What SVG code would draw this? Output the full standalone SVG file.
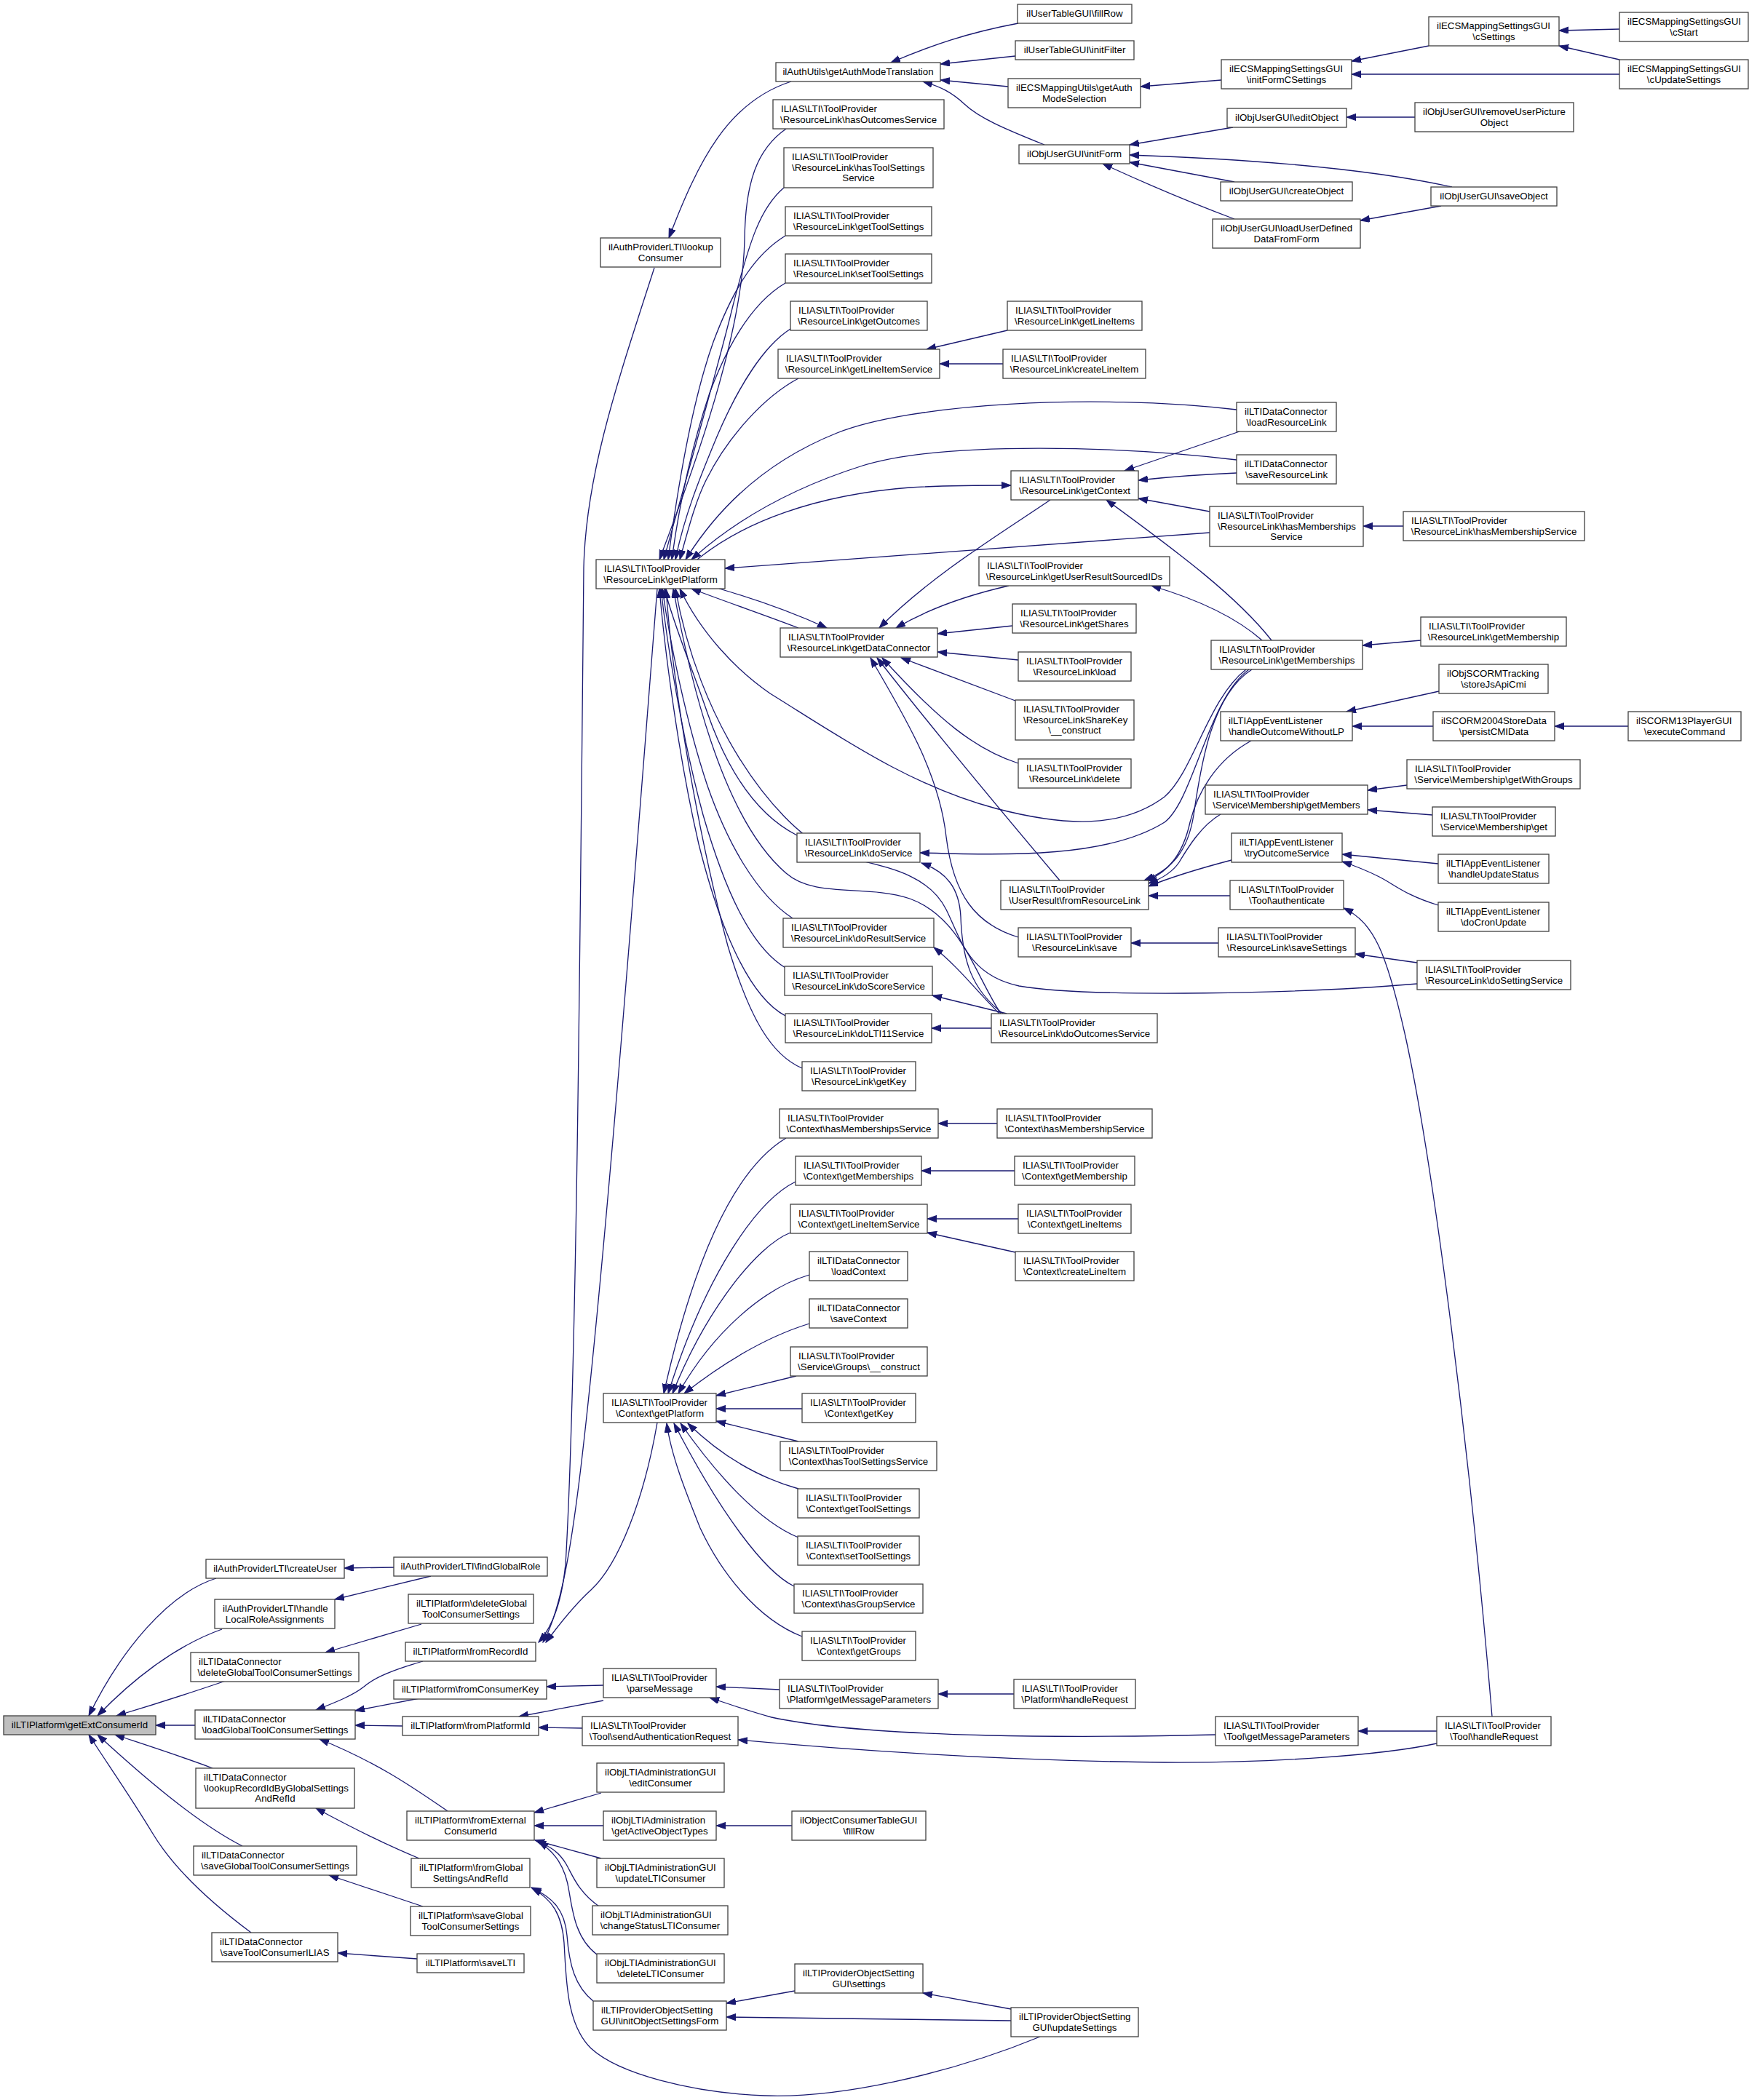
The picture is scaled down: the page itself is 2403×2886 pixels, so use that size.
<svg xmlns="http://www.w3.org/2000/svg" width="2403" height="2886" viewBox="0 0 2403 2886">
<defs>
<marker id="ah" markerUnits="userSpaceOnUse" markerWidth="14" markerHeight="10" refX="13" refY="4.6" orient="auto">
<path d="M0,0 L13,4.6 L0,9.2 z" fill="#191970" stroke="#191970" stroke-width="1"/>
</marker>
</defs>
<style>
.n rect{fill:#fff;stroke:#404040;stroke-width:1.3}
.n text{font-family:"Liberation Sans",Arial,Helvetica,sans-serif;font-size:13.3px;fill:#000}
.n text.m{text-anchor:middle}
.c path{fill:none;stroke:#191970;stroke-width:1.3;marker-end:url(#ah)}
</style>
<rect width="2403" height="2886" fill="#fff"/>
<g id="edges" class="c">
<path d="M297,2169 C230,2190 165,2270 122,2358"/>
<path d="M305,2239 C240,2262 180,2310 134,2358"/>
<path d="M310,2310 C260,2327 210,2343 160,2358"/>
<path d="M268,2371 L214,2371"/>
<path d="M292,2430 C250,2414 200,2398 158,2384"/>
<path d="M333,2537 C270,2505 195,2440 134,2384"/>
<path d="M345,2656 C290,2615 240,2570 210,2520 C180,2470 145,2420 122,2384"/>
<path d="M541,2154 L473,2155"/>
<path d="M592,2166 L460,2198"/>
<path d="M579,2232 L447,2271"/>
<path d="M581,2283 C540,2295 515,2305 500,2318 C485,2330 460,2340 434,2350"/>
<path d="M576,2334 L488,2351"/>
<path d="M553,2372 L488,2371"/>
<path d="M615,2489 C575,2462 525,2425 439,2390"/>
<path d="M576,2554 C530,2535 480,2510 434,2485"/>
<path d="M581,2620 L452,2577"/>
<path d="M573,2692 L464,2684"/>
<path d="M899,368 C850,520 805,650 802,780 C797,1300 792,1900 777,2150 C772,2200 760,2235 740,2257"/>
<path d="M903,809 C880,1100 835,1700 800,2000 C785,2130 770,2215 746,2257"/>
<path d="M903,1955 C885,2060 850,2150 812,2185 C790,2205 770,2230 750,2257"/>
<path d="M829,2316 L751,2318"/>
<path d="M829,2337 L713,2359"/>
<path d="M800,2375 L740,2374"/>
<path d="M826,2464 L734,2491"/>
<path d="M829,2509 L734,2509"/>
<path d="M826,2554 L735,2529"/>
<path d="M823,2620 C795,2600 788,2580 778,2562 C768,2545 755,2537 737,2530"/>
<path d="M820,2686 C792,2665 787,2630 782,2600 C777,2565 762,2545 740,2531"/>
<path d="M815,2750 C790,2730 782,2700 779,2660 C776,2625 760,2608 730,2594"/>
<path d="M1429,2799 C1300,2852 1150,2884 1050,2880 C950,2876 850,2850 812,2815 C778,2782 778,2720 775,2670 C772,2630 758,2610 731,2595"/>
<path d="M1087,112 C1000,140 960,220 919,327"/>
<path d="M1399,32 C1330,45 1280,62 1224,86"/>
<path d="M1395,77 L1292,88"/>
<path d="M1385,119 L1292,110"/>
<path d="M1435,199 C1380,177 1345,162 1325,143 C1308,127 1292,119 1268,112"/>
<path d="M1678,110 L1567,119"/>
<path d="M1963,63 L1857,84"/>
<path d="M2225,102 L1857,102"/>
<path d="M2225,40 L2142,42"/>
<path d="M2225,82 L2142,63"/>
<path d="M1694,175 L1552,199"/>
<path d="M1995,257 C1900,236 1755,220 1552,213"/>
<path d="M1696,250 L1552,223"/>
<path d="M1696,301 C1640,280 1580,255 1515,225"/>
<path d="M1944,161 L1850,161"/>
<path d="M1980,283 L1869,303"/>
<path d="M1080,177 C1040,205 1024,250 1023,330 C1020,460 955,640 906,769"/>
<path d="M1077,258 C1045,285 1030,330 1007,420 C985,510 945,650 912,769"/>
<path d="M1079,324 C1040,348 1010,390 980,470 C955,540 935,640 918,769"/>
<path d="M1079,389 C1040,412 1005,460 975,540 C955,600 935,680 923,769"/>
<path d="M1086,452 C1050,475 1015,530 985,600 C960,660 940,710 928,769"/>
<path d="M1097,520 C1050,545 1000,600 970,660 C955,690 945,730 934,769"/>
<path d="M1699,563 C1500,540 1250,555 1150,595 C1050,635 985,700 942,769"/>
<path d="M1699,632 C1550,614 1300,605 1185,640 C1090,670 1010,715 950,769"/>
<path d="M958,769 C1020,718 1120,680 1250,670 C1300,667 1350,667 1389,667"/>
<path d="M1662,732 L996,781"/>
<path d="M1097,863 C1050,845 1000,828 950,809"/>
<path d="M988,809 C1040,824 1090,842 1136,863"/>
<path d="M1712,920 C1660,960 1640,1060 1600,1095 C1540,1140 1460,1135 1368,1111 C1250,1080 1150,1010 1058,953 C1010,920 962,868 934,809"/>
<path d="M1095,1148 C1040,1120 1000,1060 972,980 C948,910 926,860 913,809"/>
<path d="M1089,1262 C1040,1230 1000,1160 972,1080 C942,990 920,880 910,809"/>
<path d="M1079,1330 C1030,1300 995,1220 966,1120 C936,1010 916,880 908,809"/>
<path d="M1079,1396 C1030,1370 990,1280 960,1160 C930,1030 912,880 906,809"/>
<path d="M1102,1468 C1060,1450 1030,1400 1000,1300 C960,1150 925,950 915,809"/>
<path d="M1375,1393 C1340,1340 1320,1260 1250,1235 C1190,1215 1120,1235 1080,1200 C1010,1140 960,1000 925,809"/>
<path d="M1947,1352 C1800,1365 1500,1372 1400,1355 C1330,1340 1320,1290 1300,1250 C1270,1190 1190,1190 1140,1170 C1060,1130 960,990 928,809"/>
<path d="M1456,1210 C1380,1120 1280,1000 1205,904"/>
<path d="M1399,1288 C1340,1270 1310,1230 1300,1150 C1290,1060 1240,980 1196,904"/>
<path d="M1399,1049 C1340,1030 1290,990 1212,904"/>
<path d="M1395,963 L1238,904"/>
<path d="M1399,907 L1288,896"/>
<path d="M1391,860 L1288,871"/>
<path d="M1386,805 C1320,820 1270,840 1231,863"/>
<path d="M1443,687 C1380,730 1280,790 1208,863"/>
<path d="M1384,454 L1273,480"/>
<path d="M1378,500 L1291,500"/>
<path d="M1703,593 L1545,647"/>
<path d="M1699,650 C1650,652 1610,655 1564,660"/>
<path d="M1662,703 L1564,685"/>
<path d="M1747,880 C1700,820 1620,760 1520,687"/>
<path d="M1734,880 C1700,850 1650,825 1582,805"/>
<path d="M1928,723 L1873,723"/>
<path d="M1952,880 L1872,887"/>
<path d="M1716,920 C1660,960 1640,1100 1600,1130 C1520,1180 1380,1175 1264,1172"/>
<path d="M1720,920 C1665,955 1650,1050 1640,1120 C1632,1170 1610,1195 1572,1210"/>
<path d="M1719,1018 C1670,1045 1645,1090 1635,1130 C1625,1175 1605,1198 1575,1211"/>
<path d="M1677,1119 C1650,1135 1632,1165 1620,1185 C1610,1200 1595,1208 1578,1214"/>
<path d="M1692,1182 C1650,1193 1615,1203 1578,1218"/>
<path d="M1690,1231 L1578,1231"/>
<path d="M1977,950 L1850,978"/>
<path d="M1969,998 L1858,998"/>
<path d="M2237,998 L2136,998"/>
<path d="M1933,1079 L1879,1086"/>
<path d="M1968,1120 L1879,1113"/>
<path d="M1976,1187 L1844,1174"/>
<path d="M1976,1244 C1930,1230 1915,1215 1895,1205 C1875,1195 1862,1190 1844,1184"/>
<path d="M2050,2359 C2020,2000 1970,1600 1930,1420 C1905,1310 1888,1268 1846,1248"/>
<path d="M1674,1296 L1554,1296"/>
<path d="M1947,1323 L1862,1311"/>
<path d="M1378,1393 C1335,1360 1322,1320 1320,1260 C1318,1220 1300,1198 1266,1186"/>
<path d="M1373,1393 C1340,1360 1318,1330 1283,1302"/>
<path d="M1383,1393 L1281,1368"/>
<path d="M1362,1413 L1280,1413"/>
<path d="M1080,1564 C1020,1600 960,1700 912,1915"/>
<path d="M1093,1624 C1040,1650 970,1750 918,1915"/>
<path d="M1086,1694 C1040,1712 970,1800 924,1915"/>
<path d="M1112,1752 C1050,1770 980,1830 932,1915"/>
<path d="M1112,1819 C1060,1835 1000,1868 940,1915"/>
<path d="M1094,1891 L984,1918"/>
<path d="M1102,1936 L984,1936"/>
<path d="M1097,1981 L984,1953"/>
<path d="M1097,2046 C1040,2030 990,2000 945,1956"/>
<path d="M1097,2113 C1040,2090 980,2020 935,1956"/>
<path d="M1091,2180 C1050,2160 990,2080 926,1956"/>
<path d="M1102,2249 C1040,2225 990,2160 962,2100 C942,2050 922,2000 916,1956"/>
<path d="M1370,1544 L1289,1544"/>
<path d="M1394,1609 L1266,1609"/>
<path d="M1399,1675 L1274,1675"/>
<path d="M1395,1721 L1274,1694"/>
<path d="M1071,2322 L984,2318"/>
<path d="M1670,2384 C1500,2388 1200,2390 1060,2360 C1030,2352 1005,2343 975,2333"/>
<path d="M1393,2328 L1289,2328"/>
<path d="M1974,2379 L1866,2379"/>
<path d="M1974,2396 C1900,2412 1750,2423 1600,2422 C1400,2420 1200,2408 1014,2391"/>
<path d="M1088,2509 L984,2509"/>
<path d="M1092,2736 L998,2753"/>
<path d="M1389,2777 L998,2772"/>
<path d="M1389,2761 L1268,2739"/>
</g>
<g id="nodes">
<g id="getExtConsumerId" class="n"><rect x="5" y="2358" width="209" height="26" style="fill:#bfbfbf"/><text class="m" x="109.5" y="2375">ilLTIPlatform\getExtConsumerId</text></g>
<g id="createUser" class="n"><rect x="283" y="2143" width="190" height="26"/><text class="m" x="378" y="2160">ilAuthProviderLTI\createUser</text></g>
<g id="handleLocalRoleAssignments" class="n"><rect x="295" y="2198" width="165" height="40"/><text x="306" y="2215">ilAuthProviderLTI\handle</text><text class="m" x="377.5" y="2229.5">LocalRoleAssignments</text></g>
<g id="dcDeleteGlobal" class="n"><rect x="262" y="2271" width="231" height="40"/><text x="273" y="2288">ilLTIDataConnector</text><text class="m" x="377.5" y="2302.5">\deleteGlobalToolConsumerSettings</text></g>
<g id="loadGlobal" class="n"><rect x="268" y="2350" width="220" height="40"/><text x="279" y="2367">ilLTIDataConnector</text><text class="m" x="378" y="2381.5">\loadGlobalToolConsumerSettings</text></g>
<g id="lookupRecord" class="n"><rect x="269" y="2430" width="218" height="55"/><text x="280" y="2447">ilLTIDataConnector</text><text x="280" y="2461.7">\lookupRecordIdByGlobalSettings</text><text class="m" x="378" y="2476.3">AndRefId</text></g>
<g id="dcSaveGlobal" class="n"><rect x="266" y="2537" width="224" height="40"/><text x="277" y="2554">ilLTIDataConnector</text><text class="m" x="378" y="2568.5">\saveGlobalToolConsumerSettings</text></g>
<g id="saveToolConsumerILIAS" class="n"><rect x="291" y="2656" width="173" height="40"/><text x="302" y="2673">ilLTIDataConnector</text><text class="m" x="377.5" y="2687.5">\saveToolConsumerILIAS</text></g>
<g id="findGlobalRole" class="n"><rect x="541" y="2140" width="211" height="26"/><text class="m" x="646.5" y="2157">ilAuthProviderLTI\findGlobalRole</text></g>
<g id="platDeleteGlobal" class="n"><rect x="561" y="2191" width="172" height="40"/><text x="572" y="2208">ilLTIPlatform\deleteGlobal</text><text class="m" x="647" y="2222.5">ToolConsumerSettings</text></g>
<g id="fromRecordId" class="n"><rect x="557" y="2257" width="179" height="26"/><text class="m" x="646.5" y="2274">ilLTIPlatform\fromRecordId</text></g>
<g id="fromConsumerKey" class="n"><rect x="541" y="2309" width="210" height="26"/><text class="m" x="646" y="2326">ilLTIPlatform\fromConsumerKey</text></g>
<g id="fromPlatformId" class="n"><rect x="553" y="2359" width="187" height="26"/><text class="m" x="646.5" y="2376">ilLTIPlatform\fromPlatformId</text></g>
<g id="fromExternal" class="n"><rect x="559" y="2489" width="175" height="40"/><text x="570" y="2506">ilLTIPlatform\fromExternal</text><text class="m" x="646.5" y="2520.5">ConsumerId</text></g>
<g id="fromGlobal" class="n"><rect x="565" y="2554" width="163" height="40"/><text x="576" y="2571">ilLTIPlatform\fromGlobal</text><text class="m" x="646.5" y="2585.5">SettingsAndRefId</text></g>
<g id="platSaveGlobal" class="n"><rect x="564" y="2620" width="165" height="40"/><text x="575" y="2637">ilLTIPlatform\saveGlobal</text><text class="m" x="646.5" y="2651.5">ToolConsumerSettings</text></g>
<g id="saveLTI" class="n"><rect x="573" y="2685" width="147" height="26"/><text class="m" x="646.5" y="2702">ilLTIPlatform\saveLTI</text></g>
<g id="lookupConsumer" class="n"><rect x="825" y="327" width="165" height="40"/><text x="836" y="344">ilAuthProviderLTI\lookup</text><text class="m" x="907.5" y="358.5">Consumer</text></g>
<g id="rlGetPlatform" class="n"><rect x="819" y="769" width="177" height="40"/><text x="830" y="786">ILIAS\LTI\ToolProvider</text><text class="m" x="907.5" y="800.5">\ResourceLink\getPlatform</text></g>
<g id="ctxGetPlatform" class="n"><rect x="829" y="1915" width="155" height="40"/><text x="840" y="1932">ILIAS\LTI\ToolProvider</text><text class="m" x="906.5" y="1946.5">\Context\getPlatform</text></g>
<g id="parseMessage" class="n"><rect x="829" y="2293" width="155" height="40"/><text x="840" y="2310">ILIAS\LTI\ToolProvider</text><text class="m" x="906.5" y="2324.5">\parseMessage</text></g>
<g id="sendAuth" class="n"><rect x="800" y="2359" width="214" height="40"/><text x="811" y="2376">ILIAS\LTI\ToolProvider</text><text class="m" x="907" y="2390.5">\Tool\sendAuthenticationRequest</text></g>
<g id="editConsumer" class="n"><rect x="820" y="2423" width="175" height="40"/><text x="831" y="2440">ilObjLTIAdministrationGUI</text><text class="m" x="907.5" y="2454.5">\editConsumer</text></g>
<g id="getActiveObjectTypes" class="n"><rect x="829" y="2489" width="155" height="40"/><text x="840" y="2506">ilObjLTIAdministration</text><text class="m" x="906.5" y="2520.5">\getActiveObjectTypes</text></g>
<g id="updateLTIConsumer" class="n"><rect x="820" y="2554" width="175" height="40"/><text x="831" y="2571">ilObjLTIAdministrationGUI</text><text class="m" x="907.5" y="2585.5">\updateLTIConsumer</text></g>
<g id="changeStatus" class="n"><rect x="814" y="2619" width="186" height="40"/><text x="825" y="2636">ilObjLTIAdministrationGUI</text><text class="m" x="907" y="2650.5">\changeStatusLTIConsumer</text></g>
<g id="deleteLTIConsumer" class="n"><rect x="820" y="2685" width="175" height="40"/><text x="831" y="2702">ilObjLTIAdministrationGUI</text><text class="m" x="907.5" y="2716.5">\deleteLTIConsumer</text></g>
<g id="initObjectSettingsForm" class="n"><rect x="815" y="2750" width="183" height="40"/><text x="826" y="2767">ilLTIProviderObjectSetting</text><text class="m" x="906.5" y="2781.5">GUI\initObjectSettingsForm</text></g>
<g id="getAuthModeTranslation" class="n"><rect x="1066" y="86" width="226" height="26"/><text class="m" x="1179" y="103">ilAuthUtils\getAuthModeTranslation</text></g>
<g id="rlHasOutcomesService" class="n"><rect x="1062" y="137" width="235" height="40"/><text x="1073" y="154">ILIAS\LTI\ToolProvider</text><text class="m" x="1179.5" y="168.5">\ResourceLink\hasOutcomesService</text></g>
<g id="rlHasToolSettingsService" class="n"><rect x="1077" y="203" width="205" height="55"/><text x="1088" y="220">ILIAS\LTI\ToolProvider</text><text x="1088" y="234.7">\ResourceLink\hasToolSettings</text><text class="m" x="1179.5" y="249.3">Service</text></g>
<g id="rlGetToolSettings" class="n"><rect x="1079" y="284" width="201" height="40"/><text x="1090" y="301">ILIAS\LTI\ToolProvider</text><text class="m" x="1179.5" y="315.5">\ResourceLink\getToolSettings</text></g>
<g id="rlSetToolSettings" class="n"><rect x="1079" y="349" width="201" height="40"/><text x="1090" y="366">ILIAS\LTI\ToolProvider</text><text class="m" x="1179.5" y="380.5">\ResourceLink\setToolSettings</text></g>
<g id="rlGetOutcomes" class="n"><rect x="1086" y="414" width="188" height="40"/><text x="1097" y="431">ILIAS\LTI\ToolProvider</text><text class="m" x="1180" y="445.5">\ResourceLink\getOutcomes</text></g>
<g id="rlGetLineItemService" class="n"><rect x="1069" y="480" width="222" height="40"/><text x="1080" y="497">ILIAS\LTI\ToolProvider</text><text class="m" x="1180" y="511.5">\ResourceLink\getLineItemService</text></g>
<g id="rlGetDataConnector" class="n"><rect x="1072" y="863" width="216" height="40"/><text x="1083" y="880">ILIAS\LTI\ToolProvider</text><text class="m" x="1180" y="894.5">\ResourceLink\getDataConnector</text></g>
<g id="rlDoService" class="n"><rect x="1095" y="1145" width="169" height="40"/><text x="1106" y="1162">ILIAS\LTI\ToolProvider</text><text class="m" x="1179.5" y="1176.5">\ResourceLink\doService</text></g>
<g id="rlDoResultService" class="n"><rect x="1076" y="1262" width="207" height="40"/><text x="1087" y="1279">ILIAS\LTI\ToolProvider</text><text class="m" x="1179.5" y="1293.5">\ResourceLink\doResultService</text></g>
<g id="rlDoScoreService" class="n"><rect x="1078" y="1328" width="203" height="40"/><text x="1089" y="1345">ILIAS\LTI\ToolProvider</text><text class="m" x="1179.5" y="1359.5">\ResourceLink\doScoreService</text></g>
<g id="rlDoLTI11Service" class="n"><rect x="1079" y="1393" width="201" height="40"/><text x="1090" y="1410">ILIAS\LTI\ToolProvider</text><text class="m" x="1179.5" y="1424.5">\ResourceLink\doLTI11Service</text></g>
<g id="rlGetKey" class="n"><rect x="1102" y="1459" width="156" height="40"/><text x="1113" y="1476">ILIAS\LTI\ToolProvider</text><text class="m" x="1180" y="1490.5">\ResourceLink\getKey</text></g>
<g id="ctxHasMembershipsService" class="n"><rect x="1071" y="1524" width="218" height="40"/><text x="1082" y="1541">ILIAS\LTI\ToolProvider</text><text class="m" x="1180" y="1555.5">\Context\hasMembershipsService</text></g>
<g id="ctxGetMemberships" class="n"><rect x="1093" y="1589" width="173" height="40"/><text x="1104" y="1606">ILIAS\LTI\ToolProvider</text><text class="m" x="1179.5" y="1620.5">\Context\getMemberships</text></g>
<g id="ctxGetLineItemService" class="n"><rect x="1086" y="1655" width="188" height="40"/><text x="1097" y="1672">ILIAS\LTI\ToolProvider</text><text class="m" x="1180" y="1686.5">\Context\getLineItemService</text></g>
<g id="loadContext" class="n"><rect x="1112" y="1720" width="135" height="40"/><text x="1123" y="1737">ilLTIDataConnector</text><text class="m" x="1179.5" y="1751.5">\loadContext</text></g>
<g id="saveContext" class="n"><rect x="1112" y="1785" width="135" height="40"/><text x="1123" y="1802">ilLTIDataConnector</text><text class="m" x="1179.5" y="1816.5">\saveContext</text></g>
<g id="groupsConstruct" class="n"><rect x="1086" y="1851" width="188" height="40"/><text x="1097" y="1868">ILIAS\LTI\ToolProvider</text><text class="m" x="1180" y="1882.5">\Service\Groups\__construct</text></g>
<g id="ctxGetKey" class="n"><rect x="1102" y="1915" width="156" height="40"/><text x="1113" y="1932">ILIAS\LTI\ToolProvider</text><text class="m" x="1180" y="1946.5">\Context\getKey</text></g>
<g id="ctxHasToolSettingsService" class="n"><rect x="1072" y="1981" width="215" height="40"/><text x="1083" y="1998">ILIAS\LTI\ToolProvider</text><text class="m" x="1179.5" y="2012.5">\Context\hasToolSettingsService</text></g>
<g id="ctxGetToolSettings" class="n"><rect x="1096" y="2046" width="167" height="40"/><text x="1107" y="2063">ILIAS\LTI\ToolProvider</text><text class="m" x="1179.5" y="2077.5">\Context\getToolSettings</text></g>
<g id="ctxSetToolSettings" class="n"><rect x="1096" y="2111" width="167" height="40"/><text x="1107" y="2128">ILIAS\LTI\ToolProvider</text><text class="m" x="1179.5" y="2142.5">\Context\setToolSettings</text></g>
<g id="ctxHasGroupService" class="n"><rect x="1091" y="2177" width="177" height="40"/><text x="1102" y="2194">ILIAS\LTI\ToolProvider</text><text class="m" x="1179.5" y="2208.5">\Context\hasGroupService</text></g>
<g id="ctxGetGroups" class="n"><rect x="1102" y="2242" width="156" height="40"/><text x="1113" y="2259">ILIAS\LTI\ToolProvider</text><text class="m" x="1180" y="2273.5">\Context\getGroups</text></g>
<g id="platGetMessageParameters" class="n"><rect x="1071" y="2308" width="218" height="40"/><text x="1082" y="2325">ILIAS\LTI\ToolProvider</text><text class="m" x="1180" y="2339.5">\Platform\getMessageParameters</text></g>
<g id="objConsumerFillRow" class="n"><rect x="1088" y="2489" width="184" height="40"/><text x="1099" y="2506">ilObjectConsumerTableGUI</text><text class="m" x="1180" y="2520.5">\fillRow</text></g>
<g id="settings" class="n"><rect x="1092" y="2699" width="176" height="40"/><text x="1103" y="2716">ilLTIProviderObjectSetting</text><text class="m" x="1180" y="2730.5">GUI\settings</text></g>
<g id="userFillRow" class="n"><rect x="1398" y="6" width="157" height="26"/><text class="m" x="1476.5" y="23">ilUserTableGUI\fillRow</text></g>
<g id="initFilter" class="n"><rect x="1395" y="56" width="163" height="26"/><text class="m" x="1476.5" y="73">ilUserTableGUI\initFilter</text></g>
<g id="getAuthModeSelection" class="n"><rect x="1385" y="108" width="182" height="40"/><text x="1396" y="125">ilECSMappingUtils\getAuth</text><text class="m" x="1476" y="139.5">ModeSelection</text></g>
<g id="initForm" class="n"><rect x="1400" y="199" width="152" height="26"/><text class="m" x="1476" y="216">ilObjUserGUI\initForm</text></g>
<g id="rlGetLineItems" class="n"><rect x="1384" y="414" width="185" height="40"/><text x="1395" y="431">ILIAS\LTI\ToolProvider</text><text class="m" x="1476.5" y="445.5">\ResourceLink\getLineItems</text></g>
<g id="rlCreateLineItem" class="n"><rect x="1378" y="480" width="196" height="40"/><text x="1389" y="497">ILIAS\LTI\ToolProvider</text><text class="m" x="1476" y="511.5">\ResourceLink\createLineItem</text></g>
<g id="rlGetContext" class="n"><rect x="1389" y="647" width="175" height="40"/><text x="1400" y="664">ILIAS\LTI\ToolProvider</text><text class="m" x="1476.5" y="678.5">\ResourceLink\getContext</text></g>
<g id="getUserResultSourcedIDs" class="n"><rect x="1345" y="765" width="262" height="40"/><text x="1356" y="782">ILIAS\LTI\ToolProvider</text><text class="m" x="1476" y="796.5">\ResourceLink\getUserResultSourcedIDs</text></g>
<g id="rlGetShares" class="n"><rect x="1391" y="830" width="170" height="40"/><text x="1402" y="847">ILIAS\LTI\ToolProvider</text><text class="m" x="1476" y="861.5">\ResourceLink\getShares</text></g>
<g id="rlLoad" class="n"><rect x="1399" y="896" width="155" height="40"/><text x="1410" y="913">ILIAS\LTI\ToolProvider</text><text class="m" x="1476.5" y="927.5">\ResourceLink\load</text></g>
<g id="shareKeyConstruct" class="n"><rect x="1395" y="962" width="163" height="55"/><text x="1406" y="979">ILIAS\LTI\ToolProvider</text><text x="1406" y="993.7">\ResourceLinkShareKey</text><text class="m" x="1476.5" y="1008.3">\__construct</text></g>
<g id="rlDelete" class="n"><rect x="1399" y="1043" width="155" height="40"/><text x="1410" y="1060">ILIAS\LTI\ToolProvider</text><text class="m" x="1476.5" y="1074.5">\ResourceLink\delete</text></g>
<g id="fromResourceLink" class="n"><rect x="1375" y="1210" width="203" height="40"/><text x="1386" y="1227">ILIAS\LTI\ToolProvider</text><text class="m" x="1476.5" y="1241.5">\UserResult\fromResourceLink</text></g>
<g id="rlSave" class="n"><rect x="1399" y="1275" width="155" height="40"/><text x="1410" y="1292">ILIAS\LTI\ToolProvider</text><text class="m" x="1476.5" y="1306.5">\ResourceLink\save</text></g>
<g id="doOutcomesService" class="n"><rect x="1362" y="1393" width="228" height="40"/><text x="1373" y="1410">ILIAS\LTI\ToolProvider</text><text class="m" x="1476" y="1424.5">\ResourceLink\doOutcomesService</text></g>
<g id="ctxHasMembershipService" class="n"><rect x="1370" y="1524" width="213" height="40"/><text x="1381" y="1541">ILIAS\LTI\ToolProvider</text><text class="m" x="1476.5" y="1555.5">\Context\hasMembershipService</text></g>
<g id="ctxGetMembership" class="n"><rect x="1394" y="1589" width="165" height="40"/><text x="1405" y="1606">ILIAS\LTI\ToolProvider</text><text class="m" x="1476.5" y="1620.5">\Context\getMembership</text></g>
<g id="ctxGetLineItems" class="n"><rect x="1399" y="1655" width="155" height="40"/><text x="1410" y="1672">ILIAS\LTI\ToolProvider</text><text class="m" x="1476.5" y="1686.5">\Context\getLineItems</text></g>
<g id="ctxCreateLineItem" class="n"><rect x="1395" y="1720" width="163" height="40"/><text x="1406" y="1737">ILIAS\LTI\ToolProvider</text><text class="m" x="1476.5" y="1751.5">\Context\createLineItem</text></g>
<g id="platHandleRequest" class="n"><rect x="1393" y="2308" width="167" height="40"/><text x="1404" y="2325">ILIAS\LTI\ToolProvider</text><text class="m" x="1476.5" y="2339.5">\Platform\handleRequest</text></g>
<g id="updateSettings" class="n"><rect x="1389" y="2759" width="175" height="40"/><text x="1400" y="2776">ilLTIProviderObjectSetting</text><text class="m" x="1476.5" y="2790.5">GUI\updateSettings</text></g>
<g id="initFormCSettings" class="n"><rect x="1678" y="82" width="179" height="40"/><text x="1689" y="99">ilECSMappingSettingsGUI</text><text class="m" x="1767.5" y="113.5">\initFormCSettings</text></g>
<g id="editObject" class="n"><rect x="1686" y="149" width="164" height="26"/><text class="m" x="1768" y="166">ilObjUserGUI\editObject</text></g>
<g id="createObject" class="n"><rect x="1677" y="250" width="181" height="26"/><text class="m" x="1767.5" y="267">ilObjUserGUI\createObject</text></g>
<g id="loadUserDefined" class="n"><rect x="1666" y="301" width="203" height="40"/><text x="1677" y="318">ilObjUserGUI\loadUserDefined</text><text class="m" x="1767.5" y="332.5">DataFromForm</text></g>
<g id="loadResourceLink" class="n"><rect x="1699" y="553" width="137" height="40"/><text x="1710" y="570">ilLTIDataConnector</text><text class="m" x="1767.5" y="584.5">\loadResourceLink</text></g>
<g id="saveResourceLink" class="n"><rect x="1699" y="625" width="137" height="40"/><text x="1710" y="642">ilLTIDataConnector</text><text class="m" x="1767.5" y="656.5">\saveResourceLink</text></g>
<g id="rlHasMembershipsService" class="n"><rect x="1662" y="696" width="211" height="55"/><text x="1673" y="713">ILIAS\LTI\ToolProvider</text><text x="1673" y="727.7">\ResourceLink\hasMemberships</text><text class="m" x="1767.5" y="742.3">Service</text></g>
<g id="rlGetMemberships" class="n"><rect x="1664" y="880" width="208" height="40"/><text x="1675" y="897">ILIAS\LTI\ToolProvider</text><text class="m" x="1768" y="911.5">\ResourceLink\getMemberships</text></g>
<g id="handleOutcomeWithoutLP" class="n"><rect x="1677" y="978" width="181" height="40"/><text x="1688" y="995">ilLTIAppEventListener</text><text class="m" x="1767.5" y="1009.5">\handleOutcomeWithoutLP</text></g>
<g id="getMembers" class="n"><rect x="1656" y="1079" width="223" height="40"/><text x="1667" y="1096">ILIAS\LTI\ToolProvider</text><text class="m" x="1767.5" y="1110.5">\Service\Membership\getMembers</text></g>
<g id="tryOutcomeService" class="n"><rect x="1692" y="1145" width="152" height="40"/><text x="1703" y="1162">ilLTIAppEventListener</text><text class="m" x="1768" y="1176.5">\tryOutcomeService</text></g>
<g id="authenticate" class="n"><rect x="1690" y="1210" width="156" height="40"/><text x="1701" y="1227">ILIAS\LTI\ToolProvider</text><text class="m" x="1768" y="1241.5">\Tool\authenticate</text></g>
<g id="saveSettings" class="n"><rect x="1674" y="1275" width="188" height="40"/><text x="1685" y="1292">ILIAS\LTI\ToolProvider</text><text class="m" x="1768" y="1306.5">\ResourceLink\saveSettings</text></g>
<g id="toolGetMessageParameters" class="n"><rect x="1670" y="2359" width="196" height="40"/><text x="1681" y="2376">ILIAS\LTI\ToolProvider</text><text class="m" x="1768" y="2390.5">\Tool\getMessageParameters</text></g>
<g id="cSettings" class="n"><rect x="1963" y="23" width="179" height="40"/><text x="1974" y="40">ilECSMappingSettingsGUI</text><text class="m" x="2052.5" y="54.5">\cSettings</text></g>
<g id="removeUserPicture" class="n"><rect x="1944" y="141" width="218" height="40"/><text x="1955" y="158">ilObjUserGUI\removeUserPicture</text><text class="m" x="2053" y="172.5">Object</text></g>
<g id="saveObject" class="n"><rect x="1966" y="257" width="173" height="26"/><text class="m" x="2052.5" y="274">ilObjUserGUI\saveObject</text></g>
<g id="rlHasMembershipService" class="n"><rect x="1928" y="703" width="249" height="40"/><text x="1939" y="720">ILIAS\LTI\ToolProvider</text><text class="m" x="2052.5" y="734.5">\ResourceLink\hasMembershipService</text></g>
<g id="rlGetMembership" class="n"><rect x="1952" y="848" width="200" height="40"/><text x="1963" y="865">ILIAS\LTI\ToolProvider</text><text class="m" x="2052" y="879.5">\ResourceLink\getMembership</text></g>
<g id="storeJsApiCmi" class="n"><rect x="1977" y="913" width="150" height="40"/><text x="1988" y="930">ilObjSCORMTracking</text><text class="m" x="2052" y="944.5">\storeJsApiCmi</text></g>
<g id="persistCMIData" class="n"><rect x="1969" y="978" width="167" height="40"/><text x="1980" y="995">ilSCORM2004StoreData</text><text class="m" x="2052.5" y="1009.5">\persistCMIData</text></g>
<g id="getWithGroups" class="n"><rect x="1933" y="1044" width="238" height="40"/><text x="1944" y="1061">ILIAS\LTI\ToolProvider</text><text class="m" x="2052" y="1075.5">\Service\Membership\getWithGroups</text></g>
<g id="membershipGet" class="n"><rect x="1968" y="1109" width="169" height="40"/><text x="1979" y="1126">ILIAS\LTI\ToolProvider</text><text class="m" x="2052.5" y="1140.5">\Service\Membership\get</text></g>
<g id="handleUpdateStatus" class="n"><rect x="1976" y="1174" width="152" height="40"/><text x="1987" y="1191">ilLTIAppEventListener</text><text class="m" x="2052" y="1205.5">\handleUpdateStatus</text></g>
<g id="doCronUpdate" class="n"><rect x="1976" y="1240" width="152" height="40"/><text x="1987" y="1257">ilLTIAppEventListener</text><text class="m" x="2052" y="1271.5">\doCronUpdate</text></g>
<g id="doSettingService" class="n"><rect x="1947" y="1320" width="211" height="40"/><text x="1958" y="1337">ILIAS\LTI\ToolProvider</text><text class="m" x="2052.5" y="1351.5">\ResourceLink\doSettingService</text></g>
<g id="toolHandleRequest" class="n"><rect x="1974" y="2359" width="157" height="40"/><text x="1985" y="2376">ILIAS\LTI\ToolProvider</text><text class="m" x="2052.5" y="2390.5">\Tool\handleRequest</text></g>
<g id="cStart" class="n"><rect x="2225" y="17" width="177" height="40"/><text x="2236" y="34">ilECSMappingSettingsGUI</text><text class="m" x="2313.5" y="48.5">\cStart</text></g>
<g id="cUpdateSettings" class="n"><rect x="2225" y="82" width="177" height="40"/><text x="2236" y="99">ilECSMappingSettingsGUI</text><text class="m" x="2313.5" y="113.5">\cUpdateSettings</text></g>
<g id="executeCommand" class="n"><rect x="2237" y="978" width="155" height="40"/><text x="2248" y="995">ilSCORM13PlayerGUI</text><text class="m" x="2314.5" y="1009.5">\executeCommand</text></g>
</g>
</svg>
